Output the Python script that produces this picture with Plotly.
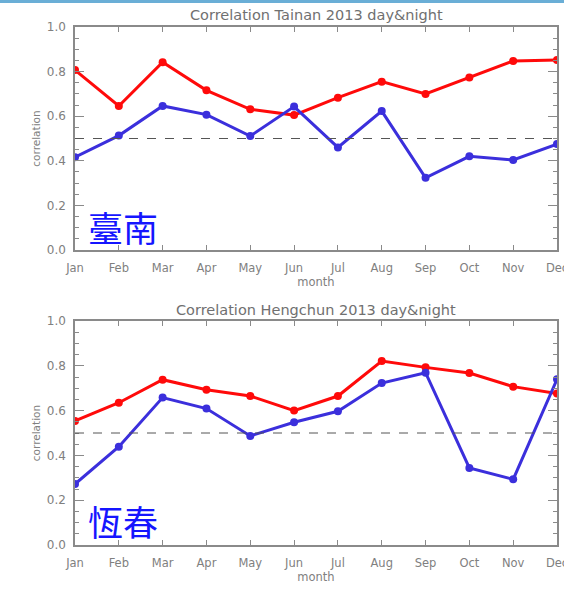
import plotly.graph_objects as go

months = ["Jan", "Feb", "Mar", "Apr", "May", "Jun",
          "Jul", "Aug", "Sep", "Oct", "Nov", "Dec"]

# Tainan 2013
tainan_red = [0.807, 0.646, 0.842, 0.716, 0.631, 0.605,
              0.683, 0.755, 0.700, 0.774, 0.848, 0.852]
tainan_blue = [0.416, 0.513, 0.646, 0.607, 0.511, 0.643,
               0.460, 0.623, 0.324, 0.420, 0.404, 0.475]

# Hengchun 2013
hengchun_red = [0.554, 0.635, 0.738, 0.693, 0.665, 0.600,
                0.665, 0.821, 0.793, 0.768, 0.707, 0.676]
hengchun_blue = [0.272, 0.439, 0.658, 0.609, 0.487, 0.548,
                 0.597, 0.723, 0.769, 0.344, 0.293, 0.740]

threshold = 0.5
y_ticks = [0.0, 0.2, 0.4, 0.6, 0.8, 1.0]

W, H = 564, 591
RED = "#ff0a0a"
BLUE = "#3b2fdc"
AXIS = "#8a8a8a"
TXT = "#808080"

xpos = list(range(len(months)))

fig = go.Figure()

panels = [
    dict(xa="x", ya="y", red=tainan_red, blue=tainan_blue,
         top=27, bottom=250, title="Correlation Tainan 2013 day&night",
         title_y=15, label="臺南", label_y=226),
    dict(xa="x2", ya="y2", red=hengchun_red, blue=hengchun_blue,
         top=321, bottom=545, title="Correlation Hengchun 2013 day&night",
         title_y=310, label="恆春", label_y=520),
]

x_left, x_right = 75, 557

for i, p in enumerate(panels):
    for vals, col in ((p["red"], RED), (p["blue"], BLUE)):
        fig.add_trace(go.Scatter(
            x=xpos, y=vals, mode="lines+markers",
            xaxis=p["xa"], yaxis=p["ya"],
            line=dict(color=col, width=3),
            marker=dict(color=col, size=8),
            showlegend=False, hoverinfo="skip", cliponaxis=True,
        ))
    fig.add_shape(type="line", xref=p["xa"], yref=p["ya"],
                  x0=0, x1=11, y0=threshold, y1=threshold,
                  line=dict(color="#555555", width=1, dash="dash"))

    suffix = "" if i == 0 else str(i + 1)
    common_x = dict(
        domain=[x_left / W, x_right / W], range=[0, 11],
        tickmode="array", tickvals=xpos, ticktext=months,
        ticks="inside", ticklen=5, tickcolor=AXIS, tickwidth=1,
        showline=True, linecolor=AXIS, linewidth=1.5, mirror="ticks",
        showgrid=False, zeroline=False, fixedrange=True, automargin=False,
        ticklabeloverflow="allow",
        tickfont=dict(family="DejaVu Sans", size=11.5, color=TXT),
        ticklabelstandoff=6,
        title=dict(text="month", standoff=1,
                   font=dict(family="DejaVu Sans", size=11.5, color=TXT)),
        anchor="y" + suffix,
    )
    common_y = dict(
        domain=[(H - p["bottom"]) / H, (H - p["top"]) / H], range=[0, 1],
        tickmode="array", tickvals=y_ticks,
        ticktext=[f"{v:.1f}" for v in y_ticks],
        ticks="inside", ticklen=9, tickcolor=AXIS, tickwidth=1,
        minor=dict(dtick=0.05, ticks="inside", ticklen=4,
                   tickcolor=AXIS, tickwidth=1, showgrid=False),
        showline=True, linecolor=AXIS, linewidth=1.5, mirror="ticks",
        showgrid=False, zeroline=False, fixedrange=True, automargin=False,
        ticklabeloverflow="allow",
        tickfont=dict(family="DejaVu Sans", size=12, color=TXT),
        ticklabelstandoff=5,
        title=dict(text="correlation", standoff=4,
                   font=dict(family="DejaVu Sans", size=10.5, color=TXT)),
        anchor="x" + suffix,
    )
    fig.update_layout(**{"xaxis" + suffix: common_x,
                         "yaxis" + suffix: common_y})

    fig.add_annotation(x=(x_left + x_right) / 2 / W, y=(H - p["title_y"]) / H,
                       xref="paper", yref="paper", text=p["title"],
                       showarrow=False, xanchor="center", yanchor="middle",
                       font=dict(family="DejaVu Sans", size=14.5, color="#707070"))
    fig.add_annotation(x=86 / W, y=(H - p["label_y"]) / H,
                       xref="paper", yref="paper", text=p["label"],
                       showarrow=False, xanchor="left", yanchor="middle",
                       font=dict(family="Noto Sans CJK TC", size=35, color="#1515ff"))

# thin band along the top edge
fig.add_shape(type="rect", xref="paper", yref="paper",
              x0=0, x1=1, y0=1 - 3 / H, y1=1,
              fillcolor="#6aaed6", line=dict(width=0), layer="above")

fig.update_layout(
    width=W, height=H,
    margin=dict(l=0, r=0, t=0, b=0),
    paper_bgcolor="white", plot_bgcolor="white",
)

fig.write_html("out.html")
